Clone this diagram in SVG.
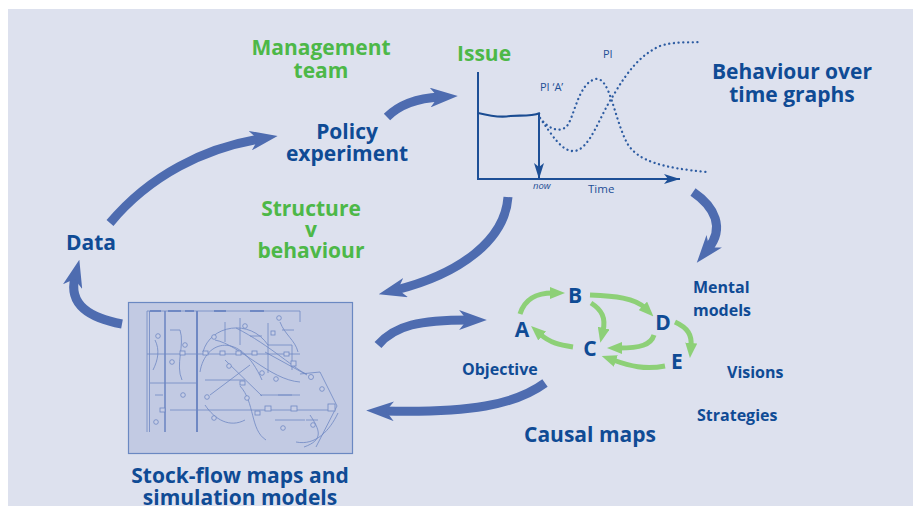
<svg xmlns="http://www.w3.org/2000/svg" width="913" height="506" viewBox="0 0 913 506">
<defs>
<style>
.t{font-family:"Open Sans","Liberation Sans",sans-serif;font-weight:700}
.db{fill:#0f4b95}
.gr{fill:#4db848}
.sm{font-family:"Open Sans","Liberation Sans",sans-serif;font-weight:400;fill:#1d4f96}
.big{fill:none;stroke:#4e6cb0;stroke-width:9;stroke-linecap:butt;marker-end:url(#bh)}
.grn{fill:none;stroke:#8dd077;stroke-width:5;stroke-linecap:butt;marker-end:url(#gh)}
.ax{fill:none;stroke:#1d4f96;stroke-width:2}
.dot{fill:none;stroke:#2d5ca2;stroke-width:2.3;stroke-linecap:round;stroke-dasharray:0.1 4.6}
.sk{fill:none;stroke:#6f88c3;stroke-width:0.8}
.sb{fill:#c6cde5;stroke:#6f88c3;stroke-width:0.8}
</style>
<marker id="bh" viewBox="0 0 14 10" refX="5" refY="5" markerWidth="3.1" markerHeight="2.2" orient="auto" markerUnits="strokeWidth">
<path d="M0,0 L14,5 L0,10 L4,5 z" fill="#4e6cb0"/>
</marker>
<marker id="gh" viewBox="0 0 10 8" refX="2" refY="4" markerWidth="3" markerHeight="2.4" orient="auto" markerUnits="strokeWidth">
<path d="M0,0 L10,4 L0,8 z" fill="#8dd077"/>
</marker>
<marker id="ah" viewBox="0 0 16 10" refX="16" refY="5" markerWidth="16" markerHeight="10" orient="auto" markerUnits="userSpaceOnUse">
<path d="M0,0 L16,5 L0,10 L4,5 z" fill="#1d4f96"/>
</marker>
</defs>
<rect x="0" y="0" width="913" height="506" fill="#ffffff"/>
<rect x="8" y="9" width="905" height="497" fill="#dde1ee"/>

<g id="connectors">
<path class="big" d="M110,223 C150,175 205,148 260,139"/>
<path class="big" d="M387,117 C400,104 420,98 440,97"/>
<path class="big" d="M508,197 C505,240 460,274 396,290"/>
<path class="big" d="M378,345 C395,325 420,320 469,320"/>
<path class="big" d="M545,383 C515,405 470,413 384,411"/>
<path class="big" d="M122,324 C90,318 68,305 75,277"/>
<path class="big" d="M693,192 C715,207 725,228 708,249"/>
<path class="grn" d="M520,314 C525,298 537,293 553,293"/>
<path class="grn" d="M590,295 C615,296 635,298 645,308"/>
<path class="grn" d="M591,303 C602,310 606,318 603,331"/>
<path class="grn" d="M654,335 C651,345 640,348 619,348"/>
<path class="grn" d="M573,347 C560,345 550,343 540,334"/>
<path class="grn" d="M665,366 C645,370 630,366 613,360"/>
<path class="grn" d="M675,322 C688,328 692,335 691,346"/>
</g>

<g id="n-management">
<text class="t gr" x="321" y="55" font-size="21" text-anchor="middle">Management</text>
<text class="t gr" x="321" y="78" font-size="21" text-anchor="middle">team</text>
</g>

<g id="n-issue-graph">
<text class="t gr" x="457" y="61" font-size="21">Issue</text>
<path class="ax" d="M478,72 V179 H680" marker-end="url(#ah)"/>
<path class="ax" d="M539,114 V179" marker-end="url(#ah)"/>
<path d="M478,113 C490,116 500,118 510,116 C520,115 530,117 540,113" fill="none" stroke="#1a4c92" stroke-width="2.2"/>
<path class="dot" d="M540,118 C548,128 558,133 566,127 C574,120 578,82 596,79 C610,77 614,118 627,143 C638,162 665,168 707,172"/>
<path class="dot" d="M540,118 C552,135 562,152 574,151 C590,150 600,115 613,96 C627,72 640,55 660,46 C675,41 688,43 700,42"/>
<text class="sm" x="540" y="91" font-size="11">PI ‘A’</text>
<text class="sm" x="603" y="58" font-size="11">PI</text>
<text class="sm" x="533" y="189" font-size="9.5" font-style="italic">now</text>
<text class="sm" x="588" y="193" font-size="11.5">Time</text>
</g>

<g id="n-policy">
<text class="t db" x="347" y="139" font-size="21" text-anchor="middle">Policy</text>
<text class="t db" x="347" y="161" font-size="21" text-anchor="middle">experiment</text>
</g>

<g id="n-behaviour">
<text class="t db" x="792" y="79" font-size="21" text-anchor="middle">Behaviour over</text>
<text class="t db" x="792" y="102" font-size="21" text-anchor="middle">time graphs</text>
</g>

<g id="n-data">
<text class="t db" x="66" y="250" font-size="21">Data</text>
</g>

<g id="n-structure">
<text class="t gr" x="311" y="216" font-size="21" text-anchor="middle">Structure</text>
<text class="t gr" x="311" y="237" font-size="21" text-anchor="middle">v</text>
<text class="t gr" x="311" y="258" font-size="21" text-anchor="middle">behaviour</text>
</g>

<g id="n-mental">
<text class="t db" x="693" y="293" font-size="16">Mental</text>
<text class="t db" x="693" y="316" font-size="16">models</text>
</g>
<g id="n-visions"><text class="t db" x="727" y="378" font-size="16">Visions</text></g>
<g id="n-strategies"><text class="t db" x="697" y="421" font-size="16">Strategies</text></g>
<g id="n-objective"><text class="t db" x="462" y="375" font-size="16">Objective</text></g>
<g id="n-causal-maps"><text class="t db" x="590" y="442" font-size="21" text-anchor="middle">Causal maps</text></g>

<g id="n-A"><text class="t db" x="522" y="337" font-size="21" text-anchor="middle">A</text></g>
<g id="n-B"><text class="t db" x="575" y="303" font-size="21" text-anchor="middle">B</text></g>
<g id="n-C"><text class="t db" x="590" y="356" font-size="21" text-anchor="middle">C</text></g>
<g id="n-D"><text class="t db" x="663" y="330" font-size="21" text-anchor="middle">D</text></g>
<g id="n-E"><text class="t db" x="677" y="369" font-size="21" text-anchor="middle">E</text></g>

<g id="n-stockflow">
<rect x="128.5" y="302.5" width="224" height="151" fill="#c2cae3" stroke="#6a88c2" stroke-width="1.2"/>
<g class="sk">
<path d="M147,311 H300"/>
<path d="M150,311 h11 M168,311 h13 M185,311 h9 M214,311 h12 M250,311 h14" stroke-width="1.8"/>
<path d="M147,311 V432 M149.5,311 V432 M300,311 V322"/>
<path d="M165,311 V432" stroke-width="1.6"/>
<path d="M197,311 V432" stroke-width="2"/>
<path d="M268,323 V373 M268,345 H292 V370"/>
<path d="M147,354 H300 M150,383 H197 M170,410 H333"/>
<path d="M203,352 C210,325 250,318 268,345"/>
<path d="M200,372 C205,340 240,330 262,380"/>
<path d="M215,340 C240,345 270,380 300,382"/>
<path d="M236,328 C270,345 298,372 307,374"/>
<path d="M265,352 L307,375 M225,360 L262,396 M210,395 L250,365"/>
<path d="M300,374 L320,372 L337,406 L316,447"/>
<path d="M310,415 C320,430 324,440 304,447 M296,442 C316,446 330,430 338,413"/>
<path d="M240,386 C255,402 250,430 266,440 M205,405 C215,420 230,428 245,420"/>
<path d="M180,330 C185,345 175,365 182,380 M155,340 C160,350 158,360 153,370"/>
<path d="M280,322 C285,335 295,340 298,352 M240,318 V345 M225,322 V342"/>
<path d="M205,380 H245 M260,395 H300 M275,420 H305 M155,395 h8 M170,330 h10 M250,336 h12 M282,330 h12 M278,395 h14 M306,420 h12"/>
</g>
<g class="sb">
<rect x="203" y="351" width="5" height="4"/><rect x="220" y="351" width="5" height="4"/>
<rect x="236" y="351" width="5" height="4"/><rect x="252" y="351" width="5" height="4"/>
<rect x="291" y="361" width="5" height="5"/><rect x="291" y="406" width="6" height="5"/>
<rect x="328" y="404" width="7" height="7"/><rect x="265" y="406" width="6" height="5"/>
<rect x="240" y="381" width="5" height="4"/><rect x="255" y="411" width="5" height="4"/>
<rect x="180" y="351" width="5" height="4"/><rect x="160" y="408" width="5" height="4"/>
<rect x="271" y="331" width="4" height="4"/><rect x="284" y="352" width="5" height="4"/>
<circle cx="158" cy="336" r="2.3"/><circle cx="185" cy="345" r="2.3"/><circle cx="172" cy="362" r="2.3"/>
<circle cx="214" cy="337" r="2.3"/><circle cx="229" cy="366" r="2.3"/><circle cx="245" cy="326" r="2.3"/>
<circle cx="279" cy="318" r="2.3"/><circle cx="262" cy="373" r="2.3"/><circle cx="311" cy="377" r="2.5"/>
<circle cx="322" cy="389" r="2.3"/><circle cx="313" cy="425" r="2.3"/><circle cx="276" cy="379" r="2.3"/>
<circle cx="283" cy="428" r="2.3"/><circle cx="156" cy="422" r="2.3"/><circle cx="183" cy="395" r="2.3"/>
<circle cx="214" cy="418" r="2.3"/><circle cx="247" cy="398" r="2.3"/><circle cx="207" cy="397" r="2.3"/>
</g>
</g>

<g id="n-stockflow-label">
<text class="t db" x="240" y="483" font-size="21" text-anchor="middle">Stock-flow maps and</text>
<text class="t db" x="240" y="505" font-size="21" text-anchor="middle">simulation models</text>
</g>
</svg>
